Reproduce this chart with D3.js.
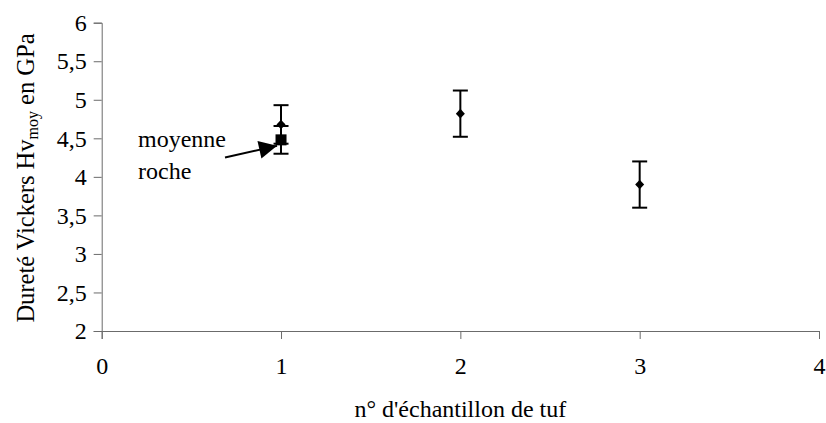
<!DOCTYPE html>
<html><head><meta charset="utf-8">
<script src="https://cdn.jsdelivr.net/npm/d3@7"></script>
<style>
body{margin:0;background:#fff;}
svg{display:block;}
</style></head>
<body>
<svg id="chart" width="826" height="423"></svg>
<script>
// Data
const samples = [1, 2, 3];
const hardness = [4.68, 4.82, 3.90];
const hardnessErr = [0.25, 0.30, 0.30];
const rockSample = [1];
const rockMean = [4.48];
const rockErr = [0.18];
const xTicks = [0, 1, 2, 3, 4];
const yTicks = [2, 2.5, 3, 3.5, 4, 4.5, 5, 5.5, 6];
const annotation = ["moyenne", "roche"];

const FONT = "'Liberation Serif'";
const FS = 24;
const svg = d3.select("#chart");
const x = d3.scaleLinear().domain([0, 4]).range([101.7, 819]);
const y = d3.scaleLinear().domain([2, 6]).range([331, 22.7]);
const fmt = v => String(v).replace(".", ",");
const axisColor = "#6b6b6b";

// Y axis
const gy = svg.append("g").attr("transform", `translate(${x(0)},0)`)
  .call(d3.axisLeft(y).tickValues(yTicks).tickFormat(fmt).tickSize(8).tickPadding(7));
gy.select(".domain").attr("stroke", axisColor);
gy.selectAll(".tick line").attr("stroke", axisColor);
gy.selectAll(".tick text").style("font-family", FONT).style("font-size", FS + "px").attr("fill", "#000");

// X axis
const gx = svg.append("g").attr("transform", `translate(0,${y(2)})`)
  .call(d3.axisBottom(x).tickValues(xTicks).tickFormat(d3.format("d")).tickSize(8).tickPadding(18));
gx.select(".domain").attr("stroke", axisColor);
gx.selectAll(".tick line").attr("stroke", axisColor);
gx.selectAll(".tick text").style("font-family", FONT).style("font-size", FS + "px").attr("fill", "#000");

// Axis titles
svg.append("text").attr("x", (x(0) + x(4)) / 2).attr("y", 417)
  .attr("text-anchor", "middle").style("font-family", FONT).style("font-size", FS + "px")
  .text("n° d'échantillon de tuf");

const yt = svg.append("text")
  .attr("transform", `translate(34,178) rotate(-90)`)
  .attr("text-anchor", "middle").style("font-family", FONT).style("font-size", "24.5px");
yt.append("tspan").text("Dureté Vickers Hv");
yt.append("tspan").style("font-size", "16px").attr("dy", 4).text("moy");
yt.append("tspan").attr("dy", -4).text(" en GPa");

// Error bars helper
function errorBars(xs, vs, es) {
  const g = svg.append("g").attr("stroke", "#000").attr("stroke-width", 2);
  xs.forEach((s, i) => {
    const cx = x(s), top = y(vs[i] + es[i]), bot = y(vs[i] - es[i]);
    g.append("line").attr("x1", cx).attr("x2", cx).attr("y1", top).attr("y2", bot);
    g.append("line").attr("x1", cx - 7.5).attr("x2", cx + 7.5).attr("y1", top).attr("y2", top);
    g.append("line").attr("x1", cx - 7.5).attr("x2", cx + 7.5).attr("y1", bot).attr("y2", bot);
  });
}

// Tuff samples (diamonds)
errorBars(samples, hardness, hardnessErr);
svg.append("g").selectAll("path").data(samples).join("path")
  .attr("transform", (d, i) => `translate(${x(d)},${y(hardness[i])})`)
  .attr("d", "M0,-4.8L4.5,0L0,4.8L-4.5,0Z").attr("fill", "#000");

// Rock mean (square)
errorBars(rockSample, rockMean, rockErr);
svg.append("g").selectAll("rect").data(rockSample).join("rect")
  .attr("x", d => x(d) - 5.5).attr("y", (d, i) => y(rockMean[i]) - 5.5)
  .attr("width", 11).attr("height", 11).attr("fill", "#000");

// Annotation
const ax = x(rockSample[0]), ay = y(rockMean[0]);
svg.append("text").attr("x", 138).attr("y", 147).style("font-family", FONT).style("font-size", FS + "px").text(annotation[0]);
svg.append("text").attr("x", 138).attr("y", 179).style("font-family", FONT).style("font-size", FS + "px").text(annotation[1]);
svg.append("defs").append("marker").attr("id", "arr")
  .attr("viewBox", "0 0 10 10").attr("refX", 10).attr("refY", 5)
  .attr("markerUnits", "userSpaceOnUse").attr("markerWidth", 20).attr("markerHeight", 18)
  .attr("orient", "auto")
  .append("path").attr("d", "M0,0L10,5L0,10Z").attr("fill", "#000");
svg.append("line").attr("x1", 225).attr("y1", 157.5)
  .attr("x2", ax - 4).attr("y2", ay + 6)
  .attr("stroke", "#000").attr("stroke-width", 2).attr("marker-end", "url(#arr)");
</script>
</body></html>
